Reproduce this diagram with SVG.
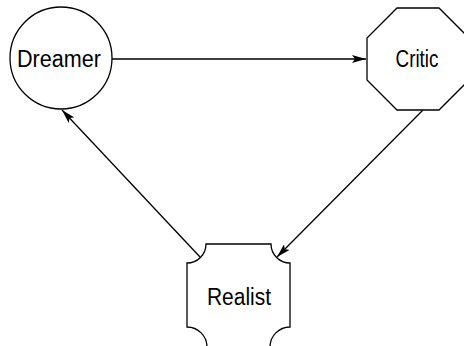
<svg xmlns="http://www.w3.org/2000/svg" width="464" height="346" viewBox="0 0 464 346">
  <style>
    .shape { fill: #fff; stroke: #000; stroke-width: 1.3; }
    .label { font-family: "Liberation Sans", Arial, sans-serif; font-size: 23px; fill: #000; text-anchor: middle; }
    .edge { fill: none; stroke: #000; stroke-width: 1.3; marker-end: url(#arrow); }
  </style>
  <defs>
    <marker id="arrow" viewBox="0 0 14 8" refX="14" refY="4" markerWidth="14" markerHeight="8" markerUnits="userSpaceOnUse" orient="auto">
      <path d="M0,0 L14,4 L0,8 L3,4 Z" fill="#000"/>
    </marker>
  </defs>
  <rect width="464" height="346" fill="#fff"/>

  <g id="connectors">
    <line class="edge" x1="112" y1="59" x2="366" y2="59"/>
    <line class="edge" x1="423" y1="110" x2="277" y2="257"/>
    <line class="edge" x1="200" y1="257" x2="62" y2="110"/>
  </g>

  <g id="dreamer">
    <circle class="shape" cx="61" cy="58" r="51"/>
    <text class="label" x="59" y="67" textLength="84" lengthAdjust="spacingAndGlyphs">Dreamer</text>
  </g>

  <g id="critic">
    <polygon class="shape" points="397,8 439,8 469,38 469,80 439,110 397,110 367,80 367,38"/>
    <text class="label" x="417" y="67" textLength="43" lengthAdjust="spacingAndGlyphs">Critic</text>
  </g>

  <g id="realist">
    <path class="shape" d="M206,244 L271,244 A19,19 0 0 0 290,263 L290,327 A20,20 0 0 0 270,347 L207,347 A20,20 0 0 0 187,327 L187,263 A19,19 0 0 0 206,244 Z"/>
    <text class="label" x="239" y="305" textLength="64" lengthAdjust="spacingAndGlyphs">Realist</text>
  </g>
</svg>
